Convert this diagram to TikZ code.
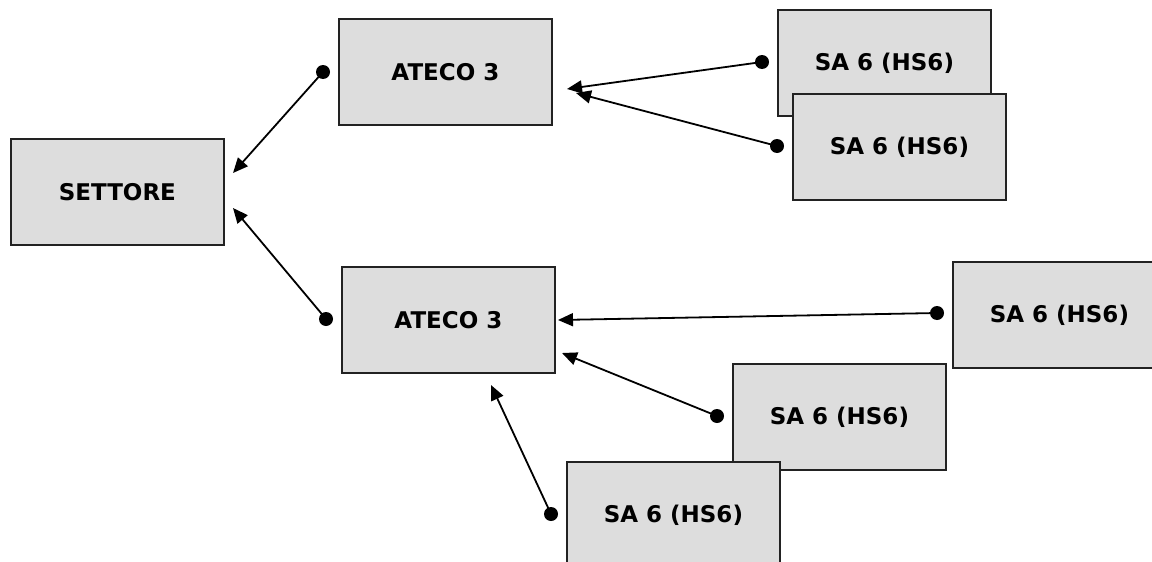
\documentclass[tikz,border=0pt]{standalone}
\usepackage{fontspec}
\setmainfont{DejaVu Sans}
\usetikzlibrary{arrows.meta}
\definecolor{boxgrey}{HTML}{DDDDDD}
\definecolor{boxline}{HTML}{222222}
\begin{document}
\begin{tikzpicture}[x=1pt,y=-1pt,
  box/.style={draw=boxline, line width=1.8pt, fill=boxgrey, anchor=north west,
    minimum width=213pt, minimum height=106pt, inner sep=0pt,
    font=\bfseries\fontsize{23}{27}\selectfont},
  link/.style={line width=1.8pt, -{Triangle[length=15pt,width=13pt]}},
  pin/.style={fill=black}]
\useasboundingbox (0,0) rectangle (1152,562);
\clip (0,0) rectangle (1152,562);
\node[box] (settore) at (10,138) {SETTORE};
\node[box] (atecoA) at (338,18) {ATECO 3};
\node[box] (saA) at (777,9) {SA 6 (HS6)};
\node[box] (saB) at (792,93) {SA 6 (HS6)};
\node[box] (atecoB) at (341,266) {ATECO 3};
\node[box] (saC) at (952,261) {SA 6 (HS6)};
\node[box] (saD) at (732,363) {SA 6 (HS6)};
\node[box] (saE) at (566,461) {SA 6 (HS6)};
% connector ends
\coordinate (dA) at (323,72);   \coordinate (tA) at (233,173);
\coordinate (dB) at (326,319);  \coordinate (tB) at (233,208);
\coordinate (dC) at (762,62);   \coordinate (tC) at (567,89);
\coordinate (dD) at (777,146);  \coordinate (tD) at (576,93);
\coordinate (dE) at (937,313);  \coordinate (tE) at (558,320);
\coordinate (dF) at (717,416);  \coordinate (tF) at (562,353);
\coordinate (dG) at (551,514);  \coordinate (tG) at (491,385);
\foreach \d/\t in {dA/tA,dB/tB,dC/tC,dD/tD,dE/tE,dF/tF,dG/tG}{
  \draw[link] (\d) -- (\t);
  \fill[pin] (\d) circle (7);
}
\end{tikzpicture}
\end{document}
